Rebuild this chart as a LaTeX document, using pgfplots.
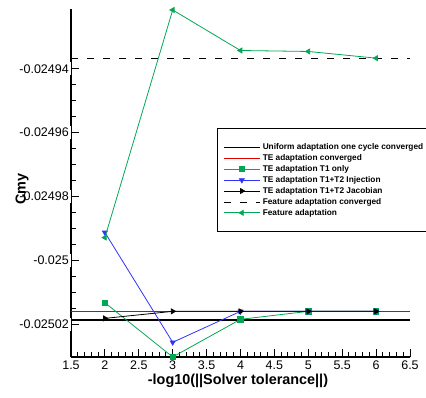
\documentclass[border=0pt]{standalone}
\usepackage{pgfplots}
\pgfplotsset{compat=1.18}
\usepackage{fontspec}
\setmainfont{Liberation Sans}

\definecolor{tegreen}{RGB}{0,168,84}
\definecolor{teblue}{RGB}{50,50,255}
\definecolor{tered}{RGB}{225,0,0}

\begin{document}
\begin{tikzpicture}
\begin{axis}[
  scale only axis,
  width=339pt, height=348pt,
  xmin=1.5, xmax=6.5,
  ymin=-0.0250303, ymax=-0.0249213,
  axis x line=bottom, axis y line=left,
  axis line style={-, line width=1.6pt},
  xtick={1.5,2,2.5,3,3.5,4,4.5,5,5.5,6,6.5},
  minor x tick num=4,
  ytick={-0.02502,-0.025,-0.02498,-0.02496,-0.02494},
  minor y tick num=3,
  tick align=inside,
  major tick length=8pt, minor tick length=5pt,
  every tick/.style={black, line width=1pt},
  scaled y ticks=false,
  /pgf/number format/assume math mode=true,
  yticklabel style={/pgf/number format/fixed, /pgf/number format/precision=5,
    font=\fontsize{12.5}{14}\selectfont, fill=white, inner sep=2pt},
  xticklabel style={/pgf/number format/fixed, /pgf/number format/precision=1,
    font=\fontsize{12.5}{14}\selectfont},
  xlabel={-log10(||Solver tolerance||)},
  xlabel style={at={(axis description cs:0.4926,0)}, anchor=center, yshift=-24pt,
    font=\fontsize{14.4}{16}\selectfont\bfseries},
  ylabel={Cmy},
  ylabel style={at={(axis description cs:-0.144,0.483)}, anchor=center, rotate=0,
    font=\fontsize{14.4}{16}\selectfont\bfseries},
  % tick labels are set above the axis title
  layers/my layers/.define layer set={
    axis background,axis grid,axis ticks,axis lines,pre main,main,
    axis descriptions,axis tick labels,axis foreground}{},
  set layers=my layers,
  clip mode=individual,
  legend cell align=left,
  legend image code/.code={%
    \path (0pt,0pt);
    \draw[mark repeat=2, mark phase=2, #1] plot coordinates {(4pt,0pt) (22pt,0pt) (40pt,0pt)};},
  legend style={at={(rel axis cs:0.4307,0.658)}, anchor=north west,
    draw=black, line width=0.9pt, inner xsep=1.5pt, inner ysep=13.5pt,
    font=\fontsize{8.3}{9.5}\selectfont\bfseries,
    nodes={text height=6.4pt, text depth=1.9pt, inner ysep=1.3pt},
    /tikz/every even column/.append style={column sep=2pt}},
]
% converged reference levels
\addplot[black, line width=1.8pt] coordinates {(1.5,-0.0250188) (6.5,-0.0250188)};
\addlegendentry{Uniform adaptation one cycle converged}
\addplot[tered, line width=0.8pt] coordinates {(1.5,-0.025016) (6.5,-0.025016)};
\addlegendentry{TE adaptation converged}
% solver tolerance studies
\addplot[tegreen, line width=0.8pt, mark=square*, mark size=2.6pt,
  mark options={solid, fill=tegreen}] coordinates {
  (2,-0.0250133) (3,-0.0250303) (4,-0.0250185) (5,-0.025016) (6,-0.025016)};
\addlegendentry{TE adaptation T1 only}
\addplot[teblue, line width=0.8pt, mark=triangle*, mark size=2.8pt,
  mark options={solid, fill=teblue, rotate=180}] coordinates {
  (2,-0.0249913) (3,-0.0250257) (4,-0.025016) (5,-0.025016) (6,-0.025016)};
\addlegendentry{TE adaptation T1+T2 Injection}
\addplot[black, line width=0.8pt, mark=triangle*, mark size=2.8pt,
  mark options={solid, fill=black, rotate=-90}] coordinates {
  (2,-0.0250182) (3,-0.025016) (4,-0.025016) (5,-0.025016) (6,-0.025016)};
\addlegendentry{TE adaptation T1+T2 Jacobian}
\addplot[black, line width=0.8pt, dash pattern=on 7pt off 9pt] coordinates {
  (1.5,-0.0249367) (6.5,-0.0249367)};
\addlegendentry{Feature adaptation converged}
\addplot[tegreen, line width=0.8pt, mark=triangle*, mark size=2.8pt,
  mark options={solid, fill=tegreen, rotate=90}] coordinates {
  (2,-0.0249929) (3,-0.0249216) (4,-0.0249343) (5,-0.0249346) (6,-0.0249367)};
\addlegendentry{Feature adaptation}
\coordinate (ll) at (rel axis cs:0,0);
\coordinate (ur) at (rel axis cs:1,1);
\end{axis}
\pgfresetboundingbox
\path ([xshift=-71pt,yshift=-40pt]ll) rectangle ([xshift=16pt,yshift=9pt]ur);
\end{tikzpicture}
\end{document}
